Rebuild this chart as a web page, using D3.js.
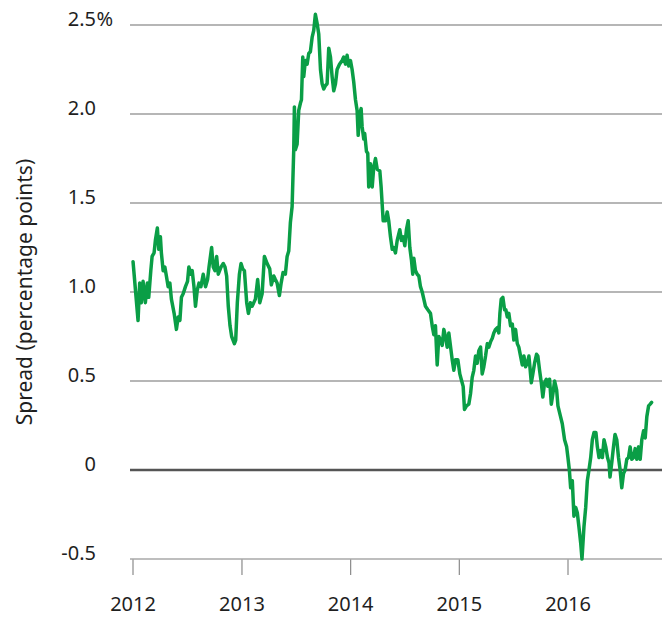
<!DOCTYPE html>
<html>
<head>
<meta charset="utf-8">
<script src="https://cdn.jsdelivr.net/npm/d3@7"></script>
<style>
  html, body { margin: 0; padding: 0; background: #fff; }
  svg { display: block; }
  text { font-family: "Noto Sans", "Open Sans", sans-serif; fill: #1f1f1f; }
</style>
</head>
<body>
<svg id="chart" width="662" height="617"></svg>
<script>
// ---- data (decimal years, spread in percentage points) ----
const dates = [
2012.005,2012.051,2012.066,2012.081,2012.097,2012.118,2012.136,2012.149,2012.168,2012.180,
2012.198,2012.210,2012.228,2012.241,2012.256,2012.265,2012.281,2012.297,2012.311,2012.327,
2012.343,2012.357,2012.382,2012.403,2012.419,2012.435,2012.449,2012.465,2012.486,2012.505,
2012.517,2012.536,2012.548,2012.564,2012.578,2012.594,2012.610,2012.628,2012.649,2012.670,
2012.689,2012.702,2012.726,2012.741,2012.757,2012.772,2012.787,2012.812,2012.833,2012.849,
2012.864,2012.879,2012.895,2012.910,2012.935,2012.947,2012.962,2012.981,2012.996,2013.011,
2013.027,2013.048,2013.064,2013.082,2013.098,2013.128,2013.149,2013.168,2013.190,2013.211,
2013.236,2013.260,2013.275,2013.297,2013.312,2013.328,2013.349,2013.365,2013.383,2013.404,
2013.420,2013.435,2013.450,2013.466,2013.481,2013.487,2013.496,2013.512,2013.527,2013.542,
2013.552,2013.564,2013.573,2013.588,2013.604,2013.619,2013.634,2013.650,2013.665,2013.680,
2013.696,2013.711,2013.727,2013.742,2013.757,2013.773,2013.788,2013.803,2013.819,2013.834,
2013.849,2013.865,2013.880,2013.902,2013.926,2013.941,2013.957,2013.972,2013.987,2014.003,
2014.018,2014.033,2014.049,2014.064,2014.074,2014.088,2014.101,2014.110,2014.125,2014.134,
2014.150,2014.162,2014.171,2014.187,2014.203,2014.217,2014.233,2014.249,2014.273,2014.285,
2014.304,2014.325,2014.341,2014.355,2014.371,2014.387,2014.401,2014.417,2014.433,2014.457,
2014.472,2014.488,2014.503,2014.518,2014.534,2014.549,2014.564,2014.576,2014.586,2014.601,
2014.617,2014.632,2014.647,2014.663,2014.678,2014.693,2014.715,2014.739,2014.755,2014.770,
2014.785,2014.801,2014.816,2014.831,2014.847,2014.862,2014.877,2014.893,2014.908,2014.939,
2014.954,2014.970,2014.991,2015.009,2015.022,2015.040,2015.052,2015.071,2015.092,2015.108,
2015.123,2015.138,2015.154,2015.169,2015.184,2015.200,2015.215,2015.230,2015.246,2015.262,
2015.276,2015.292,2015.308,2015.322,2015.338,2015.354,2015.368,2015.378,2015.390,2015.405,
2015.421,2015.433,2015.446,2015.460,2015.476,2015.492,2015.506,2015.522,2015.538,2015.552,
2015.568,2015.584,2015.599,2015.614,2015.630,2015.645,2015.654,2015.667,2015.681,2015.697,
2015.715,2015.727,2015.743,2015.759,2015.773,2015.789,2015.805,2015.819,2015.835,2015.851,
2015.866,2015.881,2015.900,2015.912,2015.936,2015.952,2015.973,2015.992,2016.004,2016.017,
2016.029,2016.044,2016.059,2016.075,2016.090,2016.105,2016.121,2016.133,2016.151,2016.167,
2016.182,2016.197,2016.213,2016.228,2016.243,2016.261,2016.274,2016.289,2016.305,2016.320,
2016.335,2016.351,2016.367,2016.381,2016.390,2016.406,2016.422,2016.436,2016.452,2016.468,
2016.483,2016.498,2016.514,2016.529,2016.544,2016.560,2016.575,2016.590,2016.606,2016.621,
2016.636,2016.652,2016.667,2016.682,2016.698,2016.713,2016.728,2016.744,2016.759,2016.772
];
const spread = [
1.17,0.84,1.05,0.94,1.06,0.94,1.05,0.97,1.12,1.20,
1.22,1.29,1.36,1.24,1.31,1.22,1.12,1.14,1.09,1.03,
1.05,0.96,0.88,0.79,0.86,0.84,0.97,0.99,1.03,1.06,
1.14,1.10,1.12,1.03,0.92,1.01,1.05,1.03,1.10,1.03,
1.07,1.14,1.25,1.14,1.12,1.20,1.10,1.14,1.16,1.14,
1.09,0.92,0.81,0.75,0.71,0.73,0.94,1.10,1.16,1.13,
1.12,0.94,0.88,0.94,0.92,0.96,1.07,0.94,0.99,1.20,
1.16,1.13,1.04,1.09,1.07,1.05,0.98,1.05,1.11,1.10,
1.20,1.23,1.39,1.48,1.80,2.04,1.80,1.83,2.02,2.06,
2.08,2.32,2.21,2.30,2.28,2.34,2.35,2.43,2.47,2.56,
2.51,2.45,2.25,2.17,2.14,2.16,2.17,2.37,2.32,2.21,
2.13,2.17,2.25,2.28,2.30,2.32,2.28,2.33,2.27,2.30,
2.25,2.18,2.08,2.02,1.88,2.00,2.03,1.93,1.86,1.89,
1.79,1.78,1.59,1.72,1.59,1.70,1.75,1.69,1.68,1.59,
1.40,1.40,1.45,1.40,1.31,1.24,1.25,1.22,1.29,1.35,
1.29,1.31,1.26,1.35,1.40,1.25,1.18,1.10,1.19,1.12,
1.10,1.09,1.03,1.00,0.96,0.92,0.90,0.88,0.81,0.76,
0.81,0.59,0.75,0.73,0.70,0.79,0.75,0.69,0.77,0.62,
0.56,0.62,0.62,0.54,0.51,0.47,0.34,0.36,0.37,0.43,
0.52,0.56,0.64,0.60,0.67,0.69,0.54,0.58,0.64,0.71,
0.69,0.72,0.74,0.77,0.79,0.80,0.77,0.88,0.96,0.97,
0.90,0.90,0.86,0.88,0.81,0.82,0.73,0.79,0.71,0.69,
0.64,0.59,0.64,0.58,0.60,0.64,0.58,0.49,0.54,0.60,
0.65,0.64,0.56,0.49,0.41,0.49,0.51,0.47,0.51,0.37,
0.43,0.50,0.45,0.36,0.30,0.26,0.17,0.13,0.07,0.00,
-0.10,-0.06,-0.26,-0.21,-0.24,-0.32,-0.41,-0.50,-0.32,-0.21,
-0.06,0.00,0.07,0.17,0.21,0.21,0.13,0.07,0.11,0.07,
0.17,0.13,0.07,0.04,-0.04,0.04,0.13,0.20,0.17,0.07,
0.00,-0.10,-0.02,0.00,0.06,0.07,0.13,0.06,0.07,0.12,
0.06,0.13,0.06,0.17,0.22,0.18,0.30,0.36,0.37,0.38
];
const yTicks = [-0.5, 0, 0.5, 1.0, 1.5, 2.0, 2.5];
const yTickLabels = ["-0.5", "0", "0.5", "1.0", "1.5", "2.0", "2.5"];
const yTopSuffix = "%";
const xTickYears = [2012, 2013, 2014, 2015, 2016];
const yTitle = "Spread (percentage points)";

// ---- helpers ----
function toDate(d) {
  const y = Math.floor(d);
  const s = new Date(y, 0, 1), e = new Date(y + 1, 0, 1);
  return new Date(+s + (d - y) * (e - s));
}
const data = dates.map((d, i) => ({ date: toDate(d), v: spread[i] }));

const svg = d3.select("#chart");
const W = 662;
const gridLeft = 130;

const x = d3.scaleTime()
  .domain([new Date(2012, 0, 1), new Date(2016, 0, 1)])
  .range([132.5, 567.5]);
const y = d3.scaleLinear().domain([-0.5, 2.5]).range([559, 25]);

// gridlines
svg.append("g").selectAll("line")
  .data(yTicks.filter(t => t !== 0 && t !== -0.5))
  .join("line")
  .attr("x1", gridLeft).attr("x2", W)
  .attr("y1", d => y(d)).attr("y2", d => y(d))
  .attr("stroke", "#6e6e6e").attr("stroke-width", 1.1);

// bottom axis (at -0.5)
const xAxis = d3.axisBottom(x)
  .tickValues(xTickYears.map(yr => new Date(yr, 0, 1)))
  .tickSize(16)
  .tickFormat(d3.timeFormat("%Y"));
const gx = svg.append("g").attr("transform", `translate(0,${y(-0.5)})`).call(xAxis);
gx.select(".domain").remove();
gx.selectAll(".tick line").attr("stroke", "#8a8a8a").attr("stroke-width", 1.2);
gx.selectAll(".tick text")
  .attr("y", 0).attr("dy", null)
  .attr("transform", "translate(0,52)")
  .style("font-size", "20px").attr("fill", "#1f1f1f");
svg.append("line")
  .attr("x1", gridLeft).attr("x2", W)
  .attr("y1", y(-0.5)).attr("y2", y(-0.5))
  .attr("stroke", "#a8a8a8").attr("stroke-width", 1.6);

// zero line
svg.append("line")
  .attr("x1", gridLeft).attr("x2", W)
  .attr("y1", y(0)).attr("y2", y(0))
  .attr("stroke", "#555").attr("stroke-width", 2.6);

// y tick labels
const yl = svg.append("g");
yl.selectAll("text")
  .data(yTicks)
  .join("text")
  .attr("x", 96)
  .attr("y", d => y(d) + 1)
  .attr("text-anchor", "end")
  .style("font-size", "20px")
  .text((d, i) => yTickLabels[i]);
yl.append("text")
  .attr("x", 96.5).attr("y", y(2.5) + 1)
  .attr("text-anchor", "start")
  .style("font-size", "20px")
  .text(yTopSuffix);

// y title
svg.append("text")
  .attr("transform", `translate(32,292) rotate(-90)`)
  .attr("text-anchor", "middle")
  .style("font-size", "21px")
  .text(yTitle);

// series line
const line = d3.line().x(d => x(d.date)).y(d => y(d.v));
svg.append("path")
  .datum(data)
  .attr("d", line)
  .attr("fill", "none")
  .attr("stroke", "#0a9e46")
  .attr("stroke-width", 3.5)
  .attr("stroke-linejoin", "round")
  .attr("stroke-linecap", "round");
</script>
</body>
</html>
